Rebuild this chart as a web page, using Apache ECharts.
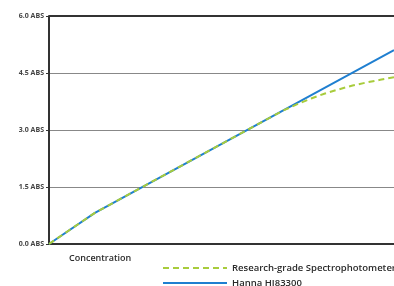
<!DOCTYPE html>
<html>
<head>
<meta charset="utf-8">
<script src="https://cdn.jsdelivr.net/npm/echarts@6/dist/echarts.min.js"></script>
<style>
  html, body { margin: 0; padding: 0; background: #fff; }
  #chart { width: 394px; height: 286px; }
</style>
</head>
<body>
<div id="chart"></div>
<script>
// concentration runs 0..100 across the visible plot
const hannaX = [0, 13.3, 100];
const hannaY = [0, 0.82, 5.1];
const researchX = [0, 13.3, 40, 67.8, 72, 76, 80, 84, 88, 92, 96, 100];
const researchY = [0, 0.82, 2.14, 3.51, 3.68, 3.83, 3.96, 4.07, 4.17, 4.25, 4.32, 4.39];
const yTicks = [0, 1.5, 3.0, 4.5, 6.0];
const yMax = 6;

const pair = (xs, ys) => xs.map((x, i) => [x, ys[i]]);

const legendBase = {
    left: 157,
    itemWidth: 64, itemHeight: 8,
    itemStyle: { opacity: 0 },
    textStyle: { fontSize: 9.5, fontWeight: 600, color: '#2a2a2a', fontFamily: 'Open Sans' }
};

const myChart = echarts.init(document.getElementById('chart'));
const options = {
    animation: false,
    grid: { left: 49, right: 0, top: 16, bottom: 42 },
    title: {
        text: 'Concentration',
        left: 64, top: 249,
        textStyle: { fontSize: 9, fontWeight: 600, color: '#2a2a2a', fontFamily: 'Open Sans' }
    },
    legend: [
        Object.assign({}, legendBase, { top: 258, data: ['Research-grade Spectrophotometer'] }),
        Object.assign({}, legendBase, { top: 273, data: ['Hanna HI83300'] })
    ],
    xAxis: {
        type: 'value', min: 0, max: 100,
        axisLine: { lineStyle: { color: '#333', width: 2 } },
        axisTick: { show: false },
        axisLabel: { show: false },
        splitLine: { show: false }
    },
    yAxis: {
        type: 'value', min: 0, max: yMax, interval: 1.5,
        axisLine: { show: true, lineStyle: { color: '#333', width: 2 } },
        axisTick: { show: true, length: 3, lineStyle: { color: '#333' } },
        axisLabel: {
            fontSize: 7, fontWeight: 'bold', color: '#444', margin: 5, fontFamily: 'Liberation Sans Narrow, Open Sans',
            formatter: v => yTicks.includes(v) ? v.toFixed(1) + ' ABS' : ''
        },
        splitLine: { lineStyle: { color: '#888', width: 1 } }
    },
    series: [
        {
            name: 'Research-grade Spectrophotometer',
            type: 'line', symbol: 'none',
            lineStyle: { color: '#a8cc3c', width: 2, type: [6, 4] },
            itemStyle: { color: '#a8cc3c' },
            data: pair(researchX, researchY),
            z: 3
        },
        {
            name: 'Hanna HI83300',
            type: 'line', symbol: 'none',
            lineStyle: { color: '#1f7fd0', width: 2 },
            itemStyle: { color: '#1f7fd0' },
            data: pair(hannaX, hannaY),
            // dark top border at 6.0
            markLine: {
                silent: true, symbol: 'none', label: { show: false },
                lineStyle: { color: '#333', width: 2, type: 'solid' },
                data: [{ yAxis: yMax }]
            },
            z: 2
        }
    ]
};
myChart.setOption(options);
</script>
</body>
</html>
